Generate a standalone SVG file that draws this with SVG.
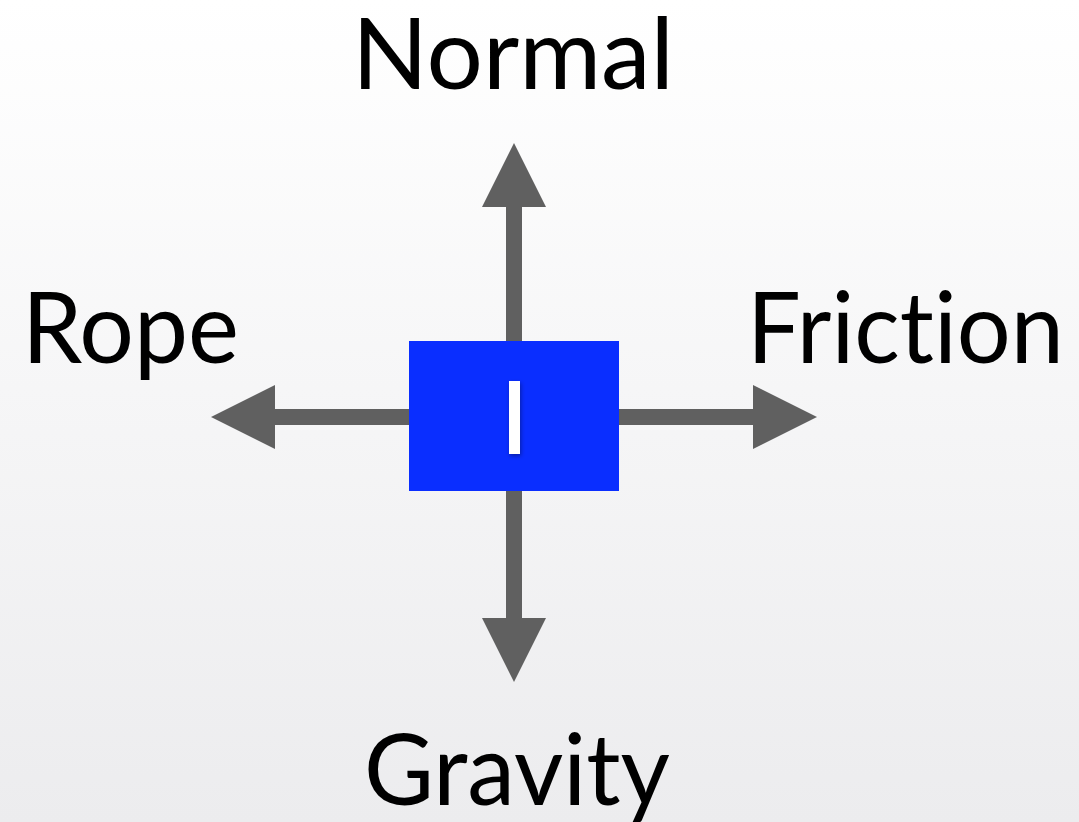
<svg xmlns="http://www.w3.org/2000/svg" width="1079" height="822" viewBox="0 0 1079 822">
<defs>
<linearGradient id="bg" x1="0" y1="0" x2="0" y2="1">
<stop offset="0" stop-color="#ffffff"/>
<stop offset="1" stop-color="#ececee"/>
</linearGradient>
<filter id="sh" x="-50%" y="-50%" width="200%" height="200%">
<feDropShadow dx="1" dy="2" stdDeviation="2" flood-color="#000" flood-opacity="0.35"/>
</filter>
</defs>
<style>
.lbl{font-family:Lato,"Open Sans","Liberation Sans",sans-serif;font-size:99px;fill:#000;font-variant-ligatures:none;font-feature-settings:"liga" 0;}
.shaft{fill:#606060;}
.head{fill:#606060;}
</style>
<rect width="1079" height="822" fill="url(#bg)"/>
<g id="connectors">
<rect class="shaft" x="506" y="205" width="16" height="140"/>
<polygon class="head" points="514,143 546,207 482,207"/>
<rect class="shaft" x="506" y="488" width="16" height="132"/>
<polygon class="head" points="514,682 546,618 482,618"/>
<rect class="shaft" x="273" y="409" width="140" height="16"/>
<polygon class="head" points="211,417 275,385 275,449"/>
<rect class="shaft" x="615" y="409" width="140" height="16"/>
<polygon class="head" points="817,417 753,385 753,449"/>
</g>
<g id="block">
<rect x="409" y="341" width="210" height="150" fill="#0A2EFF"/>
<rect x="509" y="381" width="11" height="73" fill="#ffffff" filter="url(#sh)"/>
</g>
<g id="normal"><text class="lbl" x="352" y="89" textLength="322" lengthAdjust="spacingAndGlyphs">Normal</text></g>
<g id="rope"><text class="lbl" x="22" y="363" textLength="217" lengthAdjust="spacingAndGlyphs">Rope</text></g>
<g id="friction"><text class="lbl" x="747" y="363" textLength="317" lengthAdjust="spacingAndGlyphs">Friction</text></g>
<g id="gravity"><text class="lbl" x="364" y="805" textLength="306" lengthAdjust="spacingAndGlyphs">Gravity</text></g>
</svg>
